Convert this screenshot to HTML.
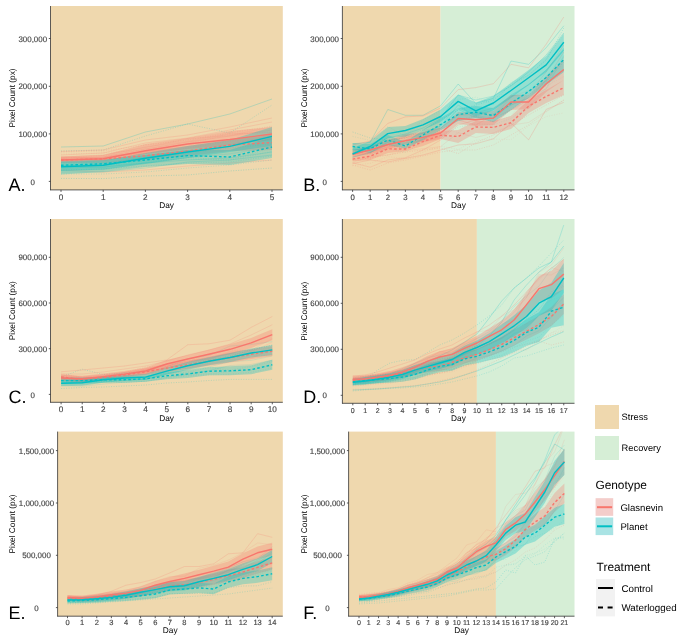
<!DOCTYPE html>
<html><head><meta charset="utf-8"><title>Pixel Count</title><style>
html,body{margin:0;padding:0;background:#fff;}
svg{display:block;will-change:transform;}
text{font-family:"Liberation Sans", sans-serif;text-rendering:geometricPrecision;}
.tk{font-size:7.95px;fill:#454545;stroke:#454545;stroke-width:0.15px;}
.ti{font-size:8.3px;fill:#000;}
.pl{font-size:18px;fill:#000;}
.lg{font-size:9.6px;fill:#000;}
.lt{font-size:11.9px;fill:#000;}
</style></head><body>
<svg width="685" height="641" viewBox="0 0 685 641">
<defs>
<clipPath id="cA"><rect x="50.5" y="6" width="232.3" height="183.9"/></clipPath>
<clipPath id="cB"><rect x="342.4" y="6" width="232.1" height="183.9"/></clipPath>
<clipPath id="cC"><rect x="50.5" y="219" width="232.3" height="183.3"/></clipPath>
<clipPath id="cD"><rect x="342.4" y="219" width="232.1" height="184.3"/></clipPath>
<clipPath id="cE"><rect x="57.6" y="431.6" width="225.2" height="184.6"/></clipPath>
<clipPath id="cF"><rect x="348.6" y="431.6" width="225.9" height="184.6"/></clipPath>
</defs>
<rect width="685" height="641" fill="#fff"/>
<rect x="50.5" y="6" width="232.3" height="183.9" fill="#EFD8AE"/>
<g clip-path="url(#cA)">
<polyline points="61,147 103.2,146 145.4,132 187.6,124 229.8,114 272,99" fill="none" stroke="#00BFC4" stroke-width="0.6" stroke-opacity="0.4"/>
<polyline points="61,151 103.2,150 145.4,136 187.6,124 229.8,133 272,105" fill="none" stroke="#00BFC4" stroke-width="0.6" stroke-opacity="0.4" stroke-dasharray="1,1.5"/>
<polyline points="61,151.4 103.2,150 145.4,140 187.6,135 229.8,127 272,118" fill="none" stroke="#F8766D" stroke-width="0.6" stroke-opacity="0.35"/>
<polyline points="61,155 103.2,153 145.4,143 187.6,138 229.8,130 272,122" fill="none" stroke="#F8766D" stroke-width="0.6" stroke-opacity="0.35"/>
<polyline points="61,152 103.2,151 145.4,145 187.6,140 229.8,133 272,126" fill="none" stroke="#F8766D" stroke-width="0.6" stroke-opacity="0.35" stroke-dasharray="1,1.5"/>
<polyline points="61,178.4 103.2,178.6 145.4,176 187.6,175 229.8,171 272,168" fill="none" stroke="#00BFC4" stroke-width="0.6" stroke-opacity="0.45" stroke-dasharray="1,1.5"/>
<polyline points="61,174 103.2,174 145.4,172 187.6,168 229.8,165 272,160" fill="none" stroke="#00BFC4" stroke-width="0.6" stroke-opacity="0.35" stroke-dasharray="1,1.5"/>
<polyline points="61,170 103.2,172 145.4,170 187.6,166 229.8,163 272,160" fill="none" stroke="#F8766D" stroke-width="0.6" stroke-opacity="0.3"/>
<polyline points="61,172 103.2,172 145.4,168 187.6,162 229.8,160 272,155" fill="none" stroke="#00BFC4" stroke-width="0.6" stroke-opacity="0.3"/>
<polyline points="61,158 103.2,157 145.4,149 187.6,142 229.8,136 272,130" fill="none" stroke="#F8766D" stroke-width="0.6" stroke-opacity="0.3"/>
<polyline points="61,163 103.2,163 145.4,158 187.6,153 229.8,148 272,144" fill="none" stroke="#F8766D" stroke-width="0.6" stroke-opacity="0.3" stroke-dasharray="1,1.5"/>
<polyline points="61,168 103.2,167 145.4,163 187.6,160 229.8,158 272,152" fill="none" stroke="#00BFC4" stroke-width="0.6" stroke-opacity="0.3"/>
<polyline points="61,170 103.2,169 145.4,166 187.6,163 229.8,162 272,156" fill="none" stroke="#00BFC4" stroke-width="0.6" stroke-opacity="0.3" stroke-dasharray="1,1.5"/>
<polyline points="61,157.1 103.2,155.66 145.4,146.94 187.6,141.28 229.8,133.9 272,132.43" fill="none" stroke="#F8766D" stroke-width="0.6" stroke-opacity="0.2"/>
<polyline points="61,156.87 103.2,154.88 145.4,147.65 187.6,138.71 229.8,135.63 272,126.59" fill="none" stroke="#F8766D" stroke-width="0.6" stroke-opacity="0.2"/>
<polyline points="61,154.15 103.2,152.9 145.4,149.87 187.6,143.65 229.8,134.38 272,131.88" fill="none" stroke="#F8766D" stroke-width="0.6" stroke-opacity="0.2" stroke-dasharray="1,1.5"/>
<polyline points="61,158.46 103.2,155.42 145.4,153.78 187.6,147.96 229.8,141.05 272,139.72" fill="none" stroke="#F8766D" stroke-width="0.6" stroke-opacity="0.2" stroke-dasharray="1,1.5"/>
<polyline points="61,165.91 103.2,163.79 145.4,157.41 187.6,150.83 229.8,144.69 272,136.17" fill="none" stroke="#00BFC4" stroke-width="0.6" stroke-opacity="0.2"/>
<polyline points="61,170.44 103.2,169.7 145.4,162.79 187.6,157.82 229.8,153.9 272,146.67" fill="none" stroke="#00BFC4" stroke-width="0.6" stroke-opacity="0.2"/>
<polyline points="61,166.05 103.2,165.18 145.4,163.01 187.6,157.45 229.8,160.18 272,151.49" fill="none" stroke="#00BFC4" stroke-width="0.6" stroke-opacity="0.2" stroke-dasharray="1,1.5"/>
<polyline points="61,166.82 103.2,164.17 145.4,160.75 187.6,159.32 229.8,159.86 272,147.93" fill="none" stroke="#00BFC4" stroke-width="0.6" stroke-opacity="0.2" stroke-dasharray="1,1.5"/>
<polygon points="61,157.5 103.2,157 145.4,151 187.6,146 229.8,140 272,135 272,150 229.8,151 187.6,156 145.4,160 103.2,163 61,163" fill="#F8766D" fill-opacity="0.3"/>
<polygon points="61,156.5 103.2,155 145.4,144 187.6,138 229.8,131 272,127 272,140 229.8,145 187.6,149 145.4,154 103.2,161 61,162" fill="#F8766D" fill-opacity="0.3"/>
<polygon points="61,161 103.2,159.5 145.4,155 187.6,150 229.8,150 272,137 272,158 229.8,165 187.6,164 145.4,167 103.2,172 61,174.5" fill="#00BFC4" fill-opacity="0.3"/>
<polygon points="61,162 103.2,160.5 145.4,153 187.6,146 229.8,140 272,127 272,146 229.8,152 187.6,158 145.4,164 103.2,169.6 61,171" fill="#00BFC4" fill-opacity="0.3"/>
<polyline points="61,160 103.2,158.9 145.4,155.8 187.6,151 229.8,145 272,142.6" fill="none" stroke="#F8766D" stroke-width="1.4" stroke-linejoin="round" stroke-dasharray="2.6,2.2"/>
<polyline points="61,165.3 103.2,163.8 145.4,160 187.6,155.6 229.8,157 272,147" fill="none" stroke="#00BFC4" stroke-width="1.4" stroke-linejoin="round" stroke-dasharray="2.6,2.2"/>
<polyline points="61,160 103.2,158.7 145.4,150.7 187.6,144 229.8,139.5 272,134" fill="none" stroke="#F8766D" stroke-width="1.4" stroke-linejoin="round"/>
<polyline points="61,166.7 103.2,165.3 145.4,158.2 187.6,152 229.8,146.4 272,136.4" fill="none" stroke="#00BFC4" stroke-width="1.4" stroke-linejoin="round"/>
</g>
<line x1="50.5" y1="6" x2="50.5" y2="190.2" stroke="#333" stroke-width="0.8"/>
<line x1="50.2" y1="189.9" x2="282.8" y2="189.9" stroke="#333" stroke-width="0.8"/>
<line x1="48.8" y1="181.4" x2="50.5" y2="181.4" stroke="#333" stroke-width="0.8"/>
<text x="32.76" y="184.5" text-anchor="middle" class="tk">0</text>
<line x1="48.8" y1="133.9" x2="50.5" y2="133.9" stroke="#333" stroke-width="0.8"/>
<text x="32.76" y="137" text-anchor="middle" class="tk">100,000</text>
<line x1="48.8" y1="86.3" x2="50.5" y2="86.3" stroke="#333" stroke-width="0.8"/>
<text x="32.76" y="89.4" text-anchor="middle" class="tk">200,000</text>
<line x1="48.8" y1="38.5" x2="50.5" y2="38.5" stroke="#333" stroke-width="0.8"/>
<text x="32.76" y="41.6" text-anchor="middle" class="tk">300,000</text>
<line x1="61" y1="189.9" x2="61" y2="191.9" stroke="#333" stroke-width="0.8"/>
<text x="61" y="200" text-anchor="middle" class="tk" style="font-size:8.2px">0</text>
<line x1="103.2" y1="189.9" x2="103.2" y2="191.9" stroke="#333" stroke-width="0.8"/>
<text x="103.2" y="200" text-anchor="middle" class="tk" style="font-size:8.2px">1</text>
<line x1="145.4" y1="189.9" x2="145.4" y2="191.9" stroke="#333" stroke-width="0.8"/>
<text x="145.4" y="200" text-anchor="middle" class="tk" style="font-size:8.2px">2</text>
<line x1="187.6" y1="189.9" x2="187.6" y2="191.9" stroke="#333" stroke-width="0.8"/>
<text x="187.6" y="200" text-anchor="middle" class="tk" style="font-size:8.2px">3</text>
<line x1="229.8" y1="189.9" x2="229.8" y2="191.9" stroke="#333" stroke-width="0.8"/>
<text x="229.8" y="200" text-anchor="middle" class="tk" style="font-size:8.2px">4</text>
<line x1="272" y1="189.9" x2="272" y2="191.9" stroke="#333" stroke-width="0.8"/>
<text x="272" y="200" text-anchor="middle" class="tk" style="font-size:8.2px">5</text>
<text x="166.65" y="207.9" text-anchor="middle" class="ti">Day</text>
<text transform="translate(15.2,97.95) rotate(-90)" text-anchor="middle" class="ti">Pixel Count (px)</text>
<text x="8.6" y="190.9" class="pl">A.</text>
<rect x="342.4" y="6" width="98.2" height="183.9" fill="#EFD8AE"/>
<rect x="440.6" y="6" width="133.9" height="183.9" fill="#D6EED6"/>
<g clip-path="url(#cB)">
<polyline points="352.6,143.8 370.2,142.3 387.8,109.5 405.4,115.3 423,115.3 440.6,105.8 458.2,84 475.8,103.4 493.4,98.4 511,61 528.6,64.3 546.2,47.7 563.8,25.8" fill="none" stroke="#00BFC4" stroke-width="0.6" stroke-opacity="0.4"/>
<polyline points="352.6,162.8 370.2,167.2 387.8,160 405.4,157.7 423,150 440.6,140 458.2,125 475.8,120 493.4,118 511,110 528.6,100 546.2,80 563.8,60" fill="none" stroke="#F8766D" stroke-width="0.6" stroke-opacity="0.35"/>
<polyline points="352.6,145 370.2,141 387.8,123.4 405.4,116.8 423,116 440.6,108 458.2,89.6 475.8,87.6 493.4,83.7 511,64.3 528.6,67.8 546.2,44.2 563.8,17" fill="none" stroke="#F8766D" stroke-width="0.6" stroke-opacity="0.4"/>
<polyline points="352.6,132 370.2,138 387.8,140 405.4,138 423,130 440.6,120 458.2,110 475.8,105 493.4,100 511,85 528.6,75 546.2,60 563.8,28" fill="none" stroke="#00BFC4" stroke-width="0.6" stroke-opacity="0.4" stroke-dasharray="1,1.5"/>
<polyline points="352.6,163.5 370.2,160 387.8,162 405.4,158.4 423,155 440.6,150 458.2,145 475.8,143.8 493.4,138.8 511,123 528.6,139.8 546.2,109.3 563.8,102.4" fill="none" stroke="#F8766D" stroke-width="0.6" stroke-opacity="0.4"/>
<polyline points="352.6,160 370.2,158 387.8,155 405.4,152 423,150 440.6,148 458.2,153.6 475.8,142.8 493.4,135 511,125 528.6,115 546.2,105 563.8,95" fill="none" stroke="#F8766D" stroke-width="0.6" stroke-opacity="0.4" stroke-dasharray="1,1.5"/>
<polyline points="352.6,150 370.2,148 387.8,138 405.4,134 423,128 440.6,118 458.2,95 475.8,100 493.4,96 511,86 528.6,72 546.2,55 563.8,33" fill="none" stroke="#00BFC4" stroke-width="0.6" stroke-opacity="0.35"/>
<polyline points="352.6,155 370.2,152 387.8,147 405.4,143 423,140 440.6,133 458.2,120 475.8,125 493.4,115 511,105 528.6,98 546.2,80 563.8,52" fill="none" stroke="#F8766D" stroke-width="0.6" stroke-opacity="0.35"/>
<polyline points="352.6,165 370.2,170 387.8,163 405.4,160 423,156 440.6,152 458.2,150 475.8,150 493.4,145 511,135 528.6,125 546.2,112 563.8,100" fill="none" stroke="#F8766D" stroke-width="0.6" stroke-opacity="0.35" stroke-dasharray="1,1.5"/>
<polyline points="352.6,152 370.2,150 387.8,145 405.4,149 423,140 440.6,130 458.2,120 475.8,116 493.4,122 511,110 528.6,95 546.2,82 563.8,62" fill="none" stroke="#00BFC4" stroke-width="0.6" stroke-opacity="0.35" stroke-dasharray="1,1.5"/>
<polyline points="352.6,157 370.2,153 387.8,142 405.4,140 423,133 440.6,126 458.2,105 475.8,117 493.4,110 511,95 528.6,85 546.2,70 563.8,50" fill="none" stroke="#00BFC4" stroke-width="0.6" stroke-opacity="0.3"/>
<polyline points="352.6,150 370.2,148 387.8,140 405.4,138 423,133 440.6,128 458.2,115 475.8,113 493.4,108 511,96 528.6,94 546.2,72 563.8,45" fill="none" stroke="#F8766D" stroke-width="0.6" stroke-opacity="0.3"/>
<polyline points="352.6,152.64 370.2,146.5 387.8,142 405.4,137.04 423,135.89 440.6,127.85 458.2,115.02 475.8,116.53 493.4,117.68 511,96.73 528.6,90.57 546.2,81.28 563.8,57.05" fill="none" stroke="#F8766D" stroke-width="0.6" stroke-opacity="0.2"/>
<polyline points="352.6,162.33 370.2,156.87 387.8,154.97 405.4,150.62 423,148.64 440.6,146.67 458.2,132.69 475.8,137.52 493.4,132.97 511,125.05 528.6,122.51 546.2,111.07 563.8,100.18" fill="none" stroke="#F8766D" stroke-width="0.6" stroke-opacity="0.2"/>
<polyline points="352.6,156.46 370.2,150.86 387.8,145.54 405.4,144.69 423,133.36 440.6,127.33 458.2,132.65 475.8,114.55 493.4,121.79 511,116.18 528.6,91.74 546.2,86.1 563.8,76.61" fill="none" stroke="#F8766D" stroke-width="0.6" stroke-opacity="0.2" stroke-dasharray="1,1.5"/>
<polyline points="352.6,165.67 370.2,163.27 387.8,156.56 405.4,158.75 423,152.1 440.6,146.23 458.2,149.48 475.8,140.1 493.4,139.02 511,139.62 528.6,125.97 546.2,116.59 563.8,112.91" fill="none" stroke="#F8766D" stroke-width="0.6" stroke-opacity="0.2" stroke-dasharray="1,1.5"/>
<polyline points="352.6,157.07 370.2,152.78 387.8,142.53 405.4,136.68 423,130.32 440.6,128.58 458.2,109.11 475.8,118.18 493.4,113.79 511,104.98 528.6,98.14 546.2,88.77 563.8,55.51" fill="none" stroke="#00BFC4" stroke-width="0.6" stroke-opacity="0.2"/>
<polyline points="352.6,157.33 370.2,152.19 387.8,141.22 405.4,135.68 423,133.35 440.6,126.08 458.2,109.31 475.8,117.38 493.4,118.25 511,104.36 528.6,91.36 546.2,80.77 563.8,70.21" fill="none" stroke="#00BFC4" stroke-width="0.6" stroke-opacity="0.2"/>
<polyline points="352.6,150 370.2,154.84 387.8,148.59 405.4,152.28 423,142.26 440.6,136.01 458.2,127.11 475.8,123.66 493.4,124.9 511,118.36 528.6,106.46 546.2,88.25 563.8,70.81" fill="none" stroke="#00BFC4" stroke-width="0.6" stroke-opacity="0.2" stroke-dasharray="1,1.5"/>
<polyline points="352.6,136.35 370.2,140.52 387.8,126.41 405.4,136.59 423,119.96 440.6,110.53 458.2,99.44 475.8,97.18 493.4,104.52 511,82.3 528.6,75.71 546.2,59.39 563.8,33.06" fill="none" stroke="#00BFC4" stroke-width="0.6" stroke-opacity="0.2" stroke-dasharray="1,1.5"/>
<polygon points="352.6,155.5 370.2,152 387.8,145 405.4,146 423,138 440.6,131 458.2,130 475.8,121 493.4,121 511,116 528.6,100 546.2,90 563.8,80 563.8,95 546.2,103 528.6,113 511,129 493.4,134 475.8,133 458.2,143 440.6,139 423,146 405.4,151 387.8,153 370.2,160 352.6,161.3" fill="#F8766D" fill-opacity="0.3"/>
<polygon points="352.6,150.4 370.2,146 387.8,140 405.4,134.3 423,132 440.6,128 458.2,112 475.8,113 493.4,111 511,95 528.6,95 546.2,76 563.8,60 563.8,80 546.2,92 528.6,109 511,110 493.4,125 475.8,126 458.2,124 440.6,139 423,142 405.4,144.5 387.8,149 370.2,154 352.6,156" fill="#F8766D" fill-opacity="0.3"/>
<polygon points="352.6,143 370.2,144 387.8,135 405.4,142 423,130 440.6,118 458.2,108 475.8,106 493.4,108 511,96 528.6,84 546.2,70 563.8,48 563.8,72 546.2,85 528.6,98 511,110 493.4,122 475.8,118 458.2,121 440.6,130 423,140 405.4,148.5 387.8,145 370.2,153 352.6,150" fill="#00BFC4" fill-opacity="0.3"/>
<polygon points="352.6,148 370.2,141 387.8,127 405.4,126 423,119 440.6,109.5 458.2,94.5 475.8,102.4 493.4,96 511,83 528.6,70 546.2,56 563.8,33.7 563.8,51 546.2,72 528.6,85 511,98 493.4,110 475.8,116.2 458.2,108.3 440.6,122 423,130 405.4,136.5 387.8,138 370.2,150 352.6,155" fill="#00BFC4" fill-opacity="0.3"/>
<polyline points="352.6,159.1 370.2,156.2 387.8,148.9 405.4,149 423,141.6 440.6,135.3 458.2,136.5 475.8,127 493.4,127.4 511,122.7 528.6,106.3 546.2,96.5 563.8,87.6" fill="none" stroke="#F8766D" stroke-width="1.4" stroke-linejoin="round" stroke-dasharray="2.6,2.2"/>
<polyline points="352.6,146.5 370.2,148.8 387.8,140 405.4,146 423,135 440.6,124.5 458.2,114.5 475.8,112.2 493.4,115.6 511,103.2 528.6,91.5 546.2,77.5 563.8,59.5" fill="none" stroke="#00BFC4" stroke-width="1.4" stroke-linejoin="round" stroke-dasharray="2.6,2.2"/>
<polyline points="352.6,154.3 370.2,150 387.8,144.5 405.4,140.7 423,137.4 440.6,133 458.2,118.5 475.8,119.7 493.4,118.1 511,102 528.6,102 546.2,83.7 563.8,69.5" fill="none" stroke="#F8766D" stroke-width="1.4" stroke-linejoin="round"/>
<polyline points="352.6,154 370.2,146.5 387.8,133.6 405.4,130.5 423,124.8 440.6,116.5 458.2,101.4 475.8,110.8 493.4,103 511,90.5 528.6,77.7 546.2,64.9 563.8,42.3" fill="none" stroke="#00BFC4" stroke-width="1.4" stroke-linejoin="round"/>
</g>
<line x1="342.4" y1="6" x2="342.4" y2="190.2" stroke="#333" stroke-width="0.8"/>
<line x1="342.1" y1="189.9" x2="574.5" y2="189.9" stroke="#333" stroke-width="0.8"/>
<line x1="340.7" y1="181.4" x2="342.4" y2="181.4" stroke="#333" stroke-width="0.8"/>
<text x="324.66" y="184.5" text-anchor="middle" class="tk">0</text>
<line x1="340.7" y1="133.9" x2="342.4" y2="133.9" stroke="#333" stroke-width="0.8"/>
<text x="324.66" y="137" text-anchor="middle" class="tk">100,000</text>
<line x1="340.7" y1="86.3" x2="342.4" y2="86.3" stroke="#333" stroke-width="0.8"/>
<text x="324.66" y="89.4" text-anchor="middle" class="tk">200,000</text>
<line x1="340.7" y1="38.5" x2="342.4" y2="38.5" stroke="#333" stroke-width="0.8"/>
<text x="324.66" y="41.6" text-anchor="middle" class="tk">300,000</text>
<line x1="352.6" y1="189.9" x2="352.6" y2="191.9" stroke="#333" stroke-width="0.8"/>
<text x="352.6" y="199.9" text-anchor="middle" class="tk" style="font-size:7.8px">0</text>
<line x1="370.2" y1="189.9" x2="370.2" y2="191.9" stroke="#333" stroke-width="0.8"/>
<text x="370.2" y="199.9" text-anchor="middle" class="tk" style="font-size:7.8px">1</text>
<line x1="387.8" y1="189.9" x2="387.8" y2="191.9" stroke="#333" stroke-width="0.8"/>
<text x="387.8" y="199.9" text-anchor="middle" class="tk" style="font-size:7.8px">2</text>
<line x1="405.4" y1="189.9" x2="405.4" y2="191.9" stroke="#333" stroke-width="0.8"/>
<text x="405.4" y="199.9" text-anchor="middle" class="tk" style="font-size:7.8px">3</text>
<line x1="423" y1="189.9" x2="423" y2="191.9" stroke="#333" stroke-width="0.8"/>
<text x="423" y="199.9" text-anchor="middle" class="tk" style="font-size:7.8px">4</text>
<line x1="440.6" y1="189.9" x2="440.6" y2="191.9" stroke="#333" stroke-width="0.8"/>
<text x="440.6" y="199.9" text-anchor="middle" class="tk" style="font-size:7.8px">5</text>
<line x1="458.2" y1="189.9" x2="458.2" y2="191.9" stroke="#333" stroke-width="0.8"/>
<text x="458.2" y="199.9" text-anchor="middle" class="tk" style="font-size:7.8px">6</text>
<line x1="475.8" y1="189.9" x2="475.8" y2="191.9" stroke="#333" stroke-width="0.8"/>
<text x="475.8" y="199.9" text-anchor="middle" class="tk" style="font-size:7.8px">7</text>
<line x1="493.4" y1="189.9" x2="493.4" y2="191.9" stroke="#333" stroke-width="0.8"/>
<text x="493.4" y="199.9" text-anchor="middle" class="tk" style="font-size:7.8px">8</text>
<line x1="511" y1="189.9" x2="511" y2="191.9" stroke="#333" stroke-width="0.8"/>
<text x="511" y="199.9" text-anchor="middle" class="tk" style="font-size:7.8px">9</text>
<line x1="528.6" y1="189.9" x2="528.6" y2="191.9" stroke="#333" stroke-width="0.8"/>
<text x="528.6" y="199.9" text-anchor="middle" class="tk" style="font-size:7.8px">10</text>
<line x1="546.2" y1="189.9" x2="546.2" y2="191.9" stroke="#333" stroke-width="0.8"/>
<text x="546.2" y="199.9" text-anchor="middle" class="tk" style="font-size:7.8px">11</text>
<line x1="563.8" y1="189.9" x2="563.8" y2="191.9" stroke="#333" stroke-width="0.8"/>
<text x="563.8" y="199.9" text-anchor="middle" class="tk" style="font-size:7.8px">12</text>
<text x="458.45" y="207.9" text-anchor="middle" class="ti">Day</text>
<text transform="translate(307.2,97.95) rotate(-90)" text-anchor="middle" class="ti">Pixel Count (px)</text>
<text x="303.2" y="191" class="pl">B.</text>
<rect x="50.5" y="219" width="232.3" height="183.3" fill="#EFD8AE"/>
<g clip-path="url(#cC)">
<polyline points="61.1,377 82.22,369.2 103.34,374.5 124.46,373 145.58,371 166.7,368 187.82,364 208.94,360 230.06,356 251.18,350 272.3,345" fill="none" stroke="#00BFC4" stroke-width="0.6" stroke-opacity="0.4" stroke-dasharray="1,1.5"/>
<polyline points="61.1,388.5 82.22,387.5 103.34,387 124.46,386 145.58,385 166.7,383 187.82,382 208.94,380.5 230.06,379.4 251.18,379.4 272.3,379.4" fill="none" stroke="#00BFC4" stroke-width="0.6" stroke-opacity="0.4" stroke-dasharray="1,1.5"/>
<polyline points="61.1,371.8 82.22,370 103.34,368 124.46,366 145.58,363 166.7,360 187.82,344.7 208.94,343.8 230.06,340.2 251.18,327.4 272.3,316.5" fill="none" stroke="#F8766D" stroke-width="0.6" stroke-opacity="0.35"/>
<polyline points="61.1,374 82.22,374 103.34,372 124.46,369 145.58,366 166.7,361 187.82,355 208.94,350 230.06,344 251.18,335 272.3,324.7" fill="none" stroke="#F8766D" stroke-width="0.6" stroke-opacity="0.3"/>
<polyline points="61.1,379.51 82.22,381.99 103.34,379.22 124.46,376.61 145.58,373.43 166.7,367.74 187.82,363.49 208.94,358.86 230.06,353.87 251.18,351.58 272.3,342.38" fill="none" stroke="#F8766D" stroke-width="0.6" stroke-opacity="0.2"/>
<polyline points="61.1,381.52 82.22,382.91 103.34,380.57 124.46,378.46 145.58,376.74 166.7,371.27 187.82,368.37 208.94,363.97 230.06,360.13 251.18,358.13 272.3,348.82" fill="none" stroke="#F8766D" stroke-width="0.6" stroke-opacity="0.2"/>
<polyline points="61.1,378.52 82.22,379.6 103.34,378.31 124.46,375.12 145.58,372.65 166.7,366.69 187.82,360.3 208.94,359.61 230.06,351.47 251.18,350.18 272.3,338.72" fill="none" stroke="#F8766D" stroke-width="0.6" stroke-opacity="0.2"/>
<polyline points="61.1,376.86 82.22,377.23 103.34,377.13 124.46,372.59 145.58,369.41 166.7,366.03 187.82,360.62 208.94,359.19 230.06,356.53 251.18,350.28 272.3,347.49" fill="none" stroke="#F8766D" stroke-width="0.6" stroke-opacity="0.2" stroke-dasharray="1,1.5"/>
<polyline points="61.1,378.05 82.22,380.83 103.34,378.01 124.46,377.02 145.58,373.14 166.7,371.26 187.82,367.46 208.94,362.56 230.06,358.49 251.18,355.46 272.3,355.24" fill="none" stroke="#F8766D" stroke-width="0.6" stroke-opacity="0.2" stroke-dasharray="1,1.5"/>
<polyline points="61.1,373.15 82.22,377.93 103.34,375.93 124.46,372.52 145.58,366.91 166.7,366.08 187.82,362.41 208.94,353.58 230.06,349.99 251.18,350.65 272.3,344.76" fill="none" stroke="#F8766D" stroke-width="0.6" stroke-opacity="0.2" stroke-dasharray="1,1.5"/>
<polyline points="61.1,384.47 82.22,384.67 103.34,381.91 124.46,380.16 145.58,379.29 166.7,373.77 187.82,369.62 208.94,366.94 230.06,361.62 251.18,360.36 272.3,356.05" fill="none" stroke="#00BFC4" stroke-width="0.6" stroke-opacity="0.2"/>
<polyline points="61.1,379.91 82.22,379.55 103.34,376.45 124.46,372.97 145.58,374.18 166.7,366.82 187.82,358.68 208.94,355.61 230.06,346.05 251.18,344.49 272.3,341.52" fill="none" stroke="#00BFC4" stroke-width="0.6" stroke-opacity="0.2"/>
<polyline points="61.1,385.49 82.22,386.18 103.34,384.07 124.46,382.11 145.58,381.24 166.7,377.4 187.82,374.24 208.94,370.64 230.06,365.54 251.18,364.49 272.3,360.09" fill="none" stroke="#00BFC4" stroke-width="0.6" stroke-opacity="0.2"/>
<polyline points="61.1,379.4 82.22,380.46 103.34,379.12 124.46,377.87 145.58,377.43 166.7,373.01 187.82,372.23 208.94,367.55 230.06,370.12 251.18,366.38 272.3,361.5" fill="none" stroke="#00BFC4" stroke-width="0.6" stroke-opacity="0.2" stroke-dasharray="1,1.5"/>
<polyline points="61.1,383.41 82.22,381.99 103.34,381.55 124.46,382.61 145.58,381.27 166.7,378.35 187.82,376.01 208.94,375.07 230.06,374.19 251.18,372.32 272.3,368.23" fill="none" stroke="#00BFC4" stroke-width="0.6" stroke-opacity="0.2" stroke-dasharray="1,1.5"/>
<polyline points="61.1,381.79 82.22,381.45 103.34,381.47 124.46,380.47 145.58,379.42 166.7,376.97 187.82,374.98 208.94,373.95 230.06,371.48 251.18,370.15 272.3,365.35" fill="none" stroke="#00BFC4" stroke-width="0.6" stroke-opacity="0.2" stroke-dasharray="1,1.5"/>
<polygon points="61.1,374 82.22,376.5 103.34,374.5 124.46,372 145.58,368.3 166.7,364.1 187.82,360.8 208.94,356.7 230.06,352.5 251.18,349.2 272.3,346.1 272.3,356.1 251.18,359.2 230.06,362.5 208.94,365.7 187.82,368.8 166.7,372.1 145.58,375.3 124.46,378 103.34,380.5 82.22,382.5 61.1,380" fill="#F8766D" fill-opacity="0.3"/>
<polygon points="61.1,375 82.22,375.8 103.34,373.6 124.46,371.1 145.58,367.5 166.7,360 187.82,355 208.94,349.7 230.06,344.3 251.18,337.9 272.3,329.2 272.3,340.2 251.18,347.9 230.06,354.3 208.94,358.7 187.82,363 166.7,368 145.58,374.5 124.46,377.1 103.34,379.6 82.22,381.8 61.1,381" fill="#F8766D" fill-opacity="0.3"/>
<polygon points="61.1,377.6 82.22,377.6 103.34,376.7 124.46,376.7 145.58,375.8 166.7,372.3 187.82,369.9 208.94,367.2 230.06,366.3 251.18,365.2 272.3,359.8 272.3,369.8 251.18,374.2 230.06,375.3 208.94,375.2 187.82,377.9 166.7,379.3 145.58,381.8 124.46,382.7 103.34,382.7 82.22,383.6 61.1,383.6" fill="#00BFC4" fill-opacity="0.3"/>
<polygon points="61.1,380.2 82.22,379.7 103.34,376.7 124.46,375 145.58,374.1 166.7,367.7 187.82,361.7 208.94,357.2 230.06,353 251.18,348.5 272.3,344.9 272.3,354.9 251.18,357.5 230.06,362 208.94,365.2 187.82,369.7 166.7,374.7 145.58,380.1 124.46,381 103.34,382.7 82.22,385.7 61.1,386.2" fill="#00BFC4" fill-opacity="0.3"/>
<polyline points="61.1,377 82.22,379.5 103.34,377.5 124.46,375 145.58,371.8 166.7,368.1 187.82,364.8 208.94,361.2 230.06,357.5 251.18,354.2 272.3,351.1" fill="none" stroke="#F8766D" stroke-width="1.4" stroke-linejoin="round" stroke-dasharray="2.6,2.2"/>
<polyline points="61.1,380.6 82.22,380.6 103.34,379.7 124.46,379.7 145.58,378.8 166.7,375.8 187.82,373.9 208.94,371.2 230.06,370.8 251.18,369.7 272.3,364.8" fill="none" stroke="#00BFC4" stroke-width="1.4" stroke-linejoin="round" stroke-dasharray="2.6,2.2"/>
<polyline points="61.1,378 82.22,378.8 103.34,376.6 124.46,374.1 145.58,371 166.7,364 187.82,359 208.94,354.2 230.06,349.3 251.18,342.9 272.3,334.7" fill="none" stroke="#F8766D" stroke-width="1.4" stroke-linejoin="round"/>
<polyline points="61.1,383.2 82.22,382.7 103.34,379.7 124.46,378 145.58,377.1 166.7,371.2 187.82,365.7 208.94,361.2 230.06,357.5 251.18,353 272.3,349.9" fill="none" stroke="#00BFC4" stroke-width="1.4" stroke-linejoin="round"/>
</g>
<line x1="50.5" y1="219" x2="50.5" y2="402.6" stroke="#333" stroke-width="0.8"/>
<line x1="50.2" y1="402.3" x2="282.8" y2="402.3" stroke="#333" stroke-width="0.8"/>
<line x1="48.8" y1="394.4" x2="50.5" y2="394.4" stroke="#333" stroke-width="0.8"/>
<text x="32.76" y="397.5" text-anchor="middle" class="tk">0</text>
<line x1="48.8" y1="348.7" x2="50.5" y2="348.7" stroke="#333" stroke-width="0.8"/>
<text x="32.76" y="351.8" text-anchor="middle" class="tk">300,000</text>
<line x1="48.8" y1="303" x2="50.5" y2="303" stroke="#333" stroke-width="0.8"/>
<text x="32.76" y="306.1" text-anchor="middle" class="tk">600,000</text>
<line x1="48.8" y1="257.3" x2="50.5" y2="257.3" stroke="#333" stroke-width="0.8"/>
<text x="32.76" y="260.4" text-anchor="middle" class="tk">900,000</text>
<line x1="61.1" y1="402.3" x2="61.1" y2="404.3" stroke="#333" stroke-width="0.8"/>
<text x="61.1" y="412" text-anchor="middle" class="tk" style="font-size:8.2px">0</text>
<line x1="82.22" y1="402.3" x2="82.22" y2="404.3" stroke="#333" stroke-width="0.8"/>
<text x="82.22" y="412" text-anchor="middle" class="tk" style="font-size:8.2px">1</text>
<line x1="103.34" y1="402.3" x2="103.34" y2="404.3" stroke="#333" stroke-width="0.8"/>
<text x="103.34" y="412" text-anchor="middle" class="tk" style="font-size:8.2px">2</text>
<line x1="124.46" y1="402.3" x2="124.46" y2="404.3" stroke="#333" stroke-width="0.8"/>
<text x="124.46" y="412" text-anchor="middle" class="tk" style="font-size:8.2px">3</text>
<line x1="145.58" y1="402.3" x2="145.58" y2="404.3" stroke="#333" stroke-width="0.8"/>
<text x="145.58" y="412" text-anchor="middle" class="tk" style="font-size:8.2px">4</text>
<line x1="166.7" y1="402.3" x2="166.7" y2="404.3" stroke="#333" stroke-width="0.8"/>
<text x="166.7" y="412" text-anchor="middle" class="tk" style="font-size:8.2px">5</text>
<line x1="187.82" y1="402.3" x2="187.82" y2="404.3" stroke="#333" stroke-width="0.8"/>
<text x="187.82" y="412" text-anchor="middle" class="tk" style="font-size:8.2px">6</text>
<line x1="208.94" y1="402.3" x2="208.94" y2="404.3" stroke="#333" stroke-width="0.8"/>
<text x="208.94" y="412" text-anchor="middle" class="tk" style="font-size:8.2px">7</text>
<line x1="230.06" y1="402.3" x2="230.06" y2="404.3" stroke="#333" stroke-width="0.8"/>
<text x="230.06" y="412" text-anchor="middle" class="tk" style="font-size:8.2px">8</text>
<line x1="251.18" y1="402.3" x2="251.18" y2="404.3" stroke="#333" stroke-width="0.8"/>
<text x="251.18" y="412" text-anchor="middle" class="tk" style="font-size:8.2px">9</text>
<line x1="272.3" y1="402.3" x2="272.3" y2="404.3" stroke="#333" stroke-width="0.8"/>
<text x="272.3" y="412" text-anchor="middle" class="tk" style="font-size:8.2px">10</text>
<text x="166.65" y="420.5" text-anchor="middle" class="ti">Day</text>
<text transform="translate(15.2,310.65) rotate(-90)" text-anchor="middle" class="ti">Pixel Count (px)</text>
<text x="8.6" y="402.6" class="pl">C.</text>
<rect x="342.4" y="219" width="134.5" height="184.3" fill="#EFD8AE"/>
<rect x="476.9" y="219" width="97.6" height="184.3" fill="#D6EED6"/>
<g clip-path="url(#cD)">
<polyline points="352.8,385 365.21,380 377.62,370 390.03,363 402.44,360.4 414.85,359.6 427.26,352.6 439.67,345 452.08,340 464.49,333 476.9,325 489.31,316 501.72,305 514.13,288 526.54,278 538.95,266 551.36,253 563.77,240" fill="none" stroke="#00BFC4" stroke-width="0.6" stroke-opacity="0.4" stroke-dasharray="1,1.5"/>
<polyline points="352.8,383 365.21,382 377.62,379 390.03,376 402.44,372 414.85,367 427.26,361 439.67,356 452.08,350 464.49,342 476.9,334 489.31,318 501.72,301 514.13,288 526.54,278 538.95,268 551.36,262 563.77,246" fill="none" stroke="#00BFC4" stroke-width="0.6" stroke-opacity="0.4"/>
<polyline points="352.8,384 365.21,383 377.62,381 390.03,379 402.44,376 414.85,372 427.26,368 439.67,364 452.08,360 464.49,354 476.9,346 489.31,336 501.72,322 514.13,300 526.54,285 538.95,272 551.36,262 563.77,225" fill="none" stroke="#00BFC4" stroke-width="0.6" stroke-opacity="0.35"/>
<polyline points="352.8,389.3 365.21,389 377.62,388.5 390.03,387.6 402.44,386.5 414.85,385.5 427.26,384 439.67,381 452.08,378 464.49,375 476.9,370 489.31,364 501.72,358 514.13,352 526.54,346 538.95,340 551.36,335 563.77,331" fill="none" stroke="#F8766D" stroke-width="0.6" stroke-opacity="0.4" stroke-dasharray="1,1.5"/>
<polyline points="352.8,390 365.21,389.5 377.62,389 390.03,388 402.44,387 414.85,386 427.26,384 439.67,382 452.08,379 464.49,375 476.9,371 489.31,366 501.72,361 514.13,355 526.54,349 538.95,343 551.36,337 563.77,331.7" fill="none" stroke="#00BFC4" stroke-width="0.6" stroke-opacity="0.4"/>
<polyline points="352.8,391 365.21,390 377.62,389 390.03,388.5 402.44,388 414.85,387 427.26,386 439.67,384 452.08,382 464.49,379 476.9,376 489.31,372 501.72,366 514.13,358 526.54,356 538.95,352 551.36,348 563.77,345" fill="none" stroke="#00BFC4" stroke-width="0.6" stroke-opacity="0.35" stroke-dasharray="1,1.5"/>
<polyline points="352.8,376 365.21,375 377.62,372 390.03,368 402.44,364 414.85,360 427.26,354 439.67,349 452.08,345 464.49,338 476.9,332 489.31,325 501.72,316 514.13,305 526.54,292 538.95,278 551.36,268 563.77,259.5" fill="none" stroke="#F8766D" stroke-width="0.6" stroke-opacity="0.35"/>
<polyline points="352.8,386 365.21,385 377.62,384 390.03,383 402.44,381 414.85,379 427.26,376 439.67,373 452.08,370 464.49,366 476.9,361 489.31,356 501.72,352 514.13,347 526.54,344 538.95,341 551.36,345 563.77,342" fill="none" stroke="#F8766D" stroke-width="0.6" stroke-opacity="0.35" stroke-dasharray="1,1.5"/>
<polyline points="352.8,375.69 365.21,375.31 377.62,375.13 390.03,371.71 402.44,370.15 414.85,363.28 427.26,358.78 439.67,352.3 452.08,348.86 464.49,343.02 476.9,331.75 489.31,330.3 501.72,316.22 514.13,309.65 526.54,297.83 538.95,272.23 551.36,264.9 563.77,247.93" fill="none" stroke="#F8766D" stroke-width="0.6" stroke-opacity="0.2"/>
<polyline points="352.8,378.78 365.21,377.49 377.62,375.1 390.03,372.75 402.44,369.31 414.85,363.38 427.26,358.67 439.67,351.42 452.08,353.7 464.49,346.54 476.9,338.66 489.31,333.59 501.72,322.36 514.13,312.46 526.54,297.08 538.95,274.71 551.36,274.9 563.77,267.89" fill="none" stroke="#F8766D" stroke-width="0.6" stroke-opacity="0.2"/>
<polyline points="352.8,376.89 365.21,376.64 377.62,375.4 390.03,374.32 402.44,371.21 414.85,365.03 427.26,359.77 439.67,354 452.08,351.72 464.49,347.29 476.9,342.73 489.31,332.82 501.72,324.23 514.13,319.17 526.54,291.71 538.95,279.51 551.36,267.76 563.77,271.35" fill="none" stroke="#F8766D" stroke-width="0.6" stroke-opacity="0.2"/>
<polyline points="352.8,383.53 365.21,383.78 377.62,382.11 390.03,380.99 402.44,377.86 414.85,375.08 427.26,374.89 439.67,373.26 452.08,371.81 464.49,367.13 476.9,363.14 489.31,359.06 501.72,357.1 514.13,353.04 526.54,349.06 538.95,341.18 551.36,332.56 563.77,330.2" fill="none" stroke="#F8766D" stroke-width="0.6" stroke-opacity="0.2" stroke-dasharray="1,1.5"/>
<polyline points="352.8,384.53 365.21,383.64 377.62,383.03 390.03,381.24 402.44,378.38 414.85,376.84 427.26,374.23 439.67,373.18 452.08,370.27 464.49,365.5 476.9,363.95 489.31,359.92 501.72,355.91 514.13,349.68 526.54,350.18 538.95,341.07 551.36,333.38 563.77,325.57" fill="none" stroke="#F8766D" stroke-width="0.6" stroke-opacity="0.2" stroke-dasharray="1,1.5"/>
<polyline points="352.8,378.72 365.21,376.55 377.62,375.12 390.03,373.34 402.44,369.24 414.85,365.85 427.26,361.74 439.67,362.93 452.08,356.42 464.49,350.18 476.9,345.74 489.31,344.28 501.72,338.35 514.13,325.27 526.54,324.45 538.95,308.34 551.36,299.89 563.77,295.74" fill="none" stroke="#F8766D" stroke-width="0.6" stroke-opacity="0.2" stroke-dasharray="1,1.5"/>
<polyline points="352.8,384.7 365.21,383.73 377.62,381.73 390.03,379.88 402.44,376.47 414.85,373.66 427.26,370.13 439.67,368.88 452.08,364.24 464.49,357.15 476.9,356.85 489.31,349.21 501.72,343.97 514.13,333.5 526.54,329.52 538.95,314.7 551.36,309.74 563.77,297.68" fill="none" stroke="#00BFC4" stroke-width="0.6" stroke-opacity="0.2"/>
<polyline points="352.8,378.48 365.21,376.85 377.62,375.37 390.03,374.17 402.44,368.52 414.85,363.46 427.26,357.58 439.67,355.18 452.08,352.61 464.49,344.56 476.9,338.41 489.31,331.62 501.72,320.89 514.13,306.49 526.54,295.86 538.95,286.18 551.36,268.97 563.77,257.45" fill="none" stroke="#00BFC4" stroke-width="0.6" stroke-opacity="0.2"/>
<polyline points="352.8,385.63 365.21,384.47 377.62,383.05 390.03,381.63 402.44,379.34 414.85,377.51 427.26,373.03 439.67,369.78 452.08,369.48 464.49,363.11 476.9,358.11 489.31,355.48 501.72,350.97 514.13,345.45 526.54,335.95 538.95,330.73 551.36,317.07 563.77,303.48" fill="none" stroke="#00BFC4" stroke-width="0.6" stroke-opacity="0.2"/>
<polyline points="352.8,377.99 365.21,375.93 377.62,374.53 390.03,374.25 402.44,373.65 414.85,369.15 427.26,364.51 439.67,358.16 452.08,358.12 464.49,352.47 476.9,345.07 489.31,343.63 501.72,331.45 514.13,330.31 526.54,318.68 538.95,309.74 551.36,292.23 563.77,286.37" fill="none" stroke="#00BFC4" stroke-width="0.6" stroke-opacity="0.2" stroke-dasharray="1,1.5"/>
<polyline points="352.8,384.05 365.21,382.25 377.62,382.56 390.03,381.24 402.44,379.81 414.85,378.71 427.26,374.13 439.67,370.26 452.08,368.58 464.49,365.49 476.9,360.03 489.31,357.39 501.72,355.08 514.13,347.51 526.54,341.23 538.95,336.97 551.36,324.82 563.77,315.12" fill="none" stroke="#00BFC4" stroke-width="0.6" stroke-opacity="0.2" stroke-dasharray="1,1.5"/>
<polyline points="352.8,379.46 365.21,377.9 377.62,375.98 390.03,374.24 402.44,373.89 414.85,370.84 427.26,364.96 439.67,359.73 452.08,356.92 464.49,348.44 476.9,345.71 489.31,344.75 501.72,337.09 514.13,328.96 526.54,318.56 538.95,309.72 551.36,291.56 563.77,285.01" fill="none" stroke="#00BFC4" stroke-width="0.6" stroke-opacity="0.2" stroke-dasharray="1,1.5"/>
<polygon points="352.8,377.2 365.21,375.9 377.62,374.4 390.03,372.3 402.44,369.4 414.85,365.5 427.26,362.6 439.67,360.9 452.08,357.1 464.49,351.9 476.9,348.4 489.31,343.13 501.72,337.26 514.13,329.99 526.54,322.81 538.95,315.64 551.36,307.07 563.77,294 563.77,314 551.36,325.93 538.95,333.36 526.54,339.39 514.13,345.41 501.72,351.54 489.31,356.27 476.9,360.4 464.49,363.3 452.08,367.9 439.67,371.1 427.26,372.2 414.85,374.5 402.44,377.8 390.03,380.1 377.62,381.6 365.21,382.5 352.8,383.2" fill="#F8766D" fill-opacity="0.3"/>
<polygon points="352.8,376.2 365.21,375.4 377.62,373.3 390.03,371.1 402.44,367.2 414.85,362.4 427.26,355.9 439.67,351.2 452.08,348.2 464.49,341.7 476.9,336 489.31,328.26 501.72,320.51 514.13,309.57 526.54,293.03 538.95,275.99 551.36,270.84 563.77,259.1 563.77,289.1 551.36,298.56 538.95,301.41 526.54,316.17 514.13,330.43 501.72,339.09 489.31,344.54 476.9,350 464.49,354.9 452.08,360.6 439.67,362.8 427.26,366.7 414.85,372.4 402.44,376.4 390.03,379.5 377.62,380.9 365.21,382.2 352.8,382.2" fill="#F8766D" fill-opacity="0.3"/>
<polygon points="352.8,379 365.21,377.1 377.62,375.7 390.03,374.3 402.44,372.5 414.85,369.5 427.26,364.6 439.67,360.7 452.08,358.3 464.49,352.4 476.9,349.3 489.31,343.23 501.72,336.86 514.13,328.69 526.54,319.11 538.95,312.24 551.36,294.77 563.77,289.2 563.77,325.2 551.36,327.63 538.95,341.96 526.54,345.69 514.13,352.11 501.72,357.14 489.31,360.37 476.9,363.3 464.49,365.6 452.08,370.7 439.67,372.3 427.26,375.4 414.85,379.5 402.44,381.7 390.03,382.7 377.62,383.3 365.21,383.9 352.8,385" fill="#00BFC4" fill-opacity="0.3"/>
<polygon points="352.8,379.3 365.21,377.6 377.62,375.4 390.03,372.9 402.44,369.9 414.85,365.1 427.26,361.2 439.67,357.2 452.08,353.3 464.49,345.7 476.9,340.5 489.31,333.56 501.72,324.51 514.13,315.37 526.54,304.93 538.95,290.49 551.36,282.74 563.77,263 563.77,293 551.36,310.46 538.95,315.91 526.54,328.07 514.13,336.23 501.72,343.09 489.31,349.84 476.9,354.5 464.49,358.9 452.08,365.7 439.67,368.8 427.26,372 414.85,375.1 402.44,379.1 390.03,381.3 377.62,383 365.21,384.4 352.8,385.3" fill="#00BFC4" fill-opacity="0.3"/>
<polyline points="352.8,380.2 365.21,379.2 377.62,378 390.03,376.2 402.44,373.6 414.85,370 427.26,367.4 439.67,366 452.08,362.5 464.49,357.6 476.9,354.4 489.31,349.7 501.72,344.4 514.13,337.7 526.54,331.1 538.95,324.5 551.36,316.5 563.77,304" fill="none" stroke="#F8766D" stroke-width="1.4" stroke-linejoin="round" stroke-dasharray="2.6,2.2"/>
<polyline points="352.8,382 365.21,380.5 377.62,379.5 390.03,378.5 402.44,377.1 414.85,374.5 427.26,370 439.67,366.5 452.08,364.5 464.49,359 476.9,356.3 489.31,351.8 501.72,347 514.13,340.4 526.54,332.4 538.95,327.1 551.36,311.2 563.77,307.2" fill="none" stroke="#00BFC4" stroke-width="1.4" stroke-linejoin="round" stroke-dasharray="2.6,2.2"/>
<polyline points="352.8,379.2 365.21,378.8 377.62,377.1 390.03,375.3 402.44,371.8 414.85,367.4 427.26,361.3 439.67,357 452.08,354.4 464.49,348.3 476.9,343 489.31,336.4 501.72,329.8 514.13,320 526.54,304.6 538.95,288.7 551.36,284.7 563.77,274.1" fill="none" stroke="#F8766D" stroke-width="1.4" stroke-linejoin="round"/>
<polyline points="352.8,382.3 365.21,381 377.62,379.2 390.03,377.1 402.44,374.5 414.85,370.1 427.26,366.6 439.67,363 452.08,359.5 464.49,352.3 476.9,347.5 489.31,341.7 501.72,333.8 514.13,325.8 526.54,316.5 538.95,303.2 551.36,296.6 563.77,278" fill="none" stroke="#00BFC4" stroke-width="1.4" stroke-linejoin="round"/>
</g>
<line x1="342.4" y1="219" x2="342.4" y2="403.6" stroke="#333" stroke-width="0.8"/>
<line x1="342.1" y1="403.3" x2="574.5" y2="403.3" stroke="#333" stroke-width="0.8"/>
<line x1="340.7" y1="395.3" x2="342.4" y2="395.3" stroke="#333" stroke-width="0.8"/>
<text x="324.66" y="398.4" text-anchor="middle" class="tk">0</text>
<line x1="340.7" y1="349.3" x2="342.4" y2="349.3" stroke="#333" stroke-width="0.8"/>
<text x="324.66" y="352.4" text-anchor="middle" class="tk">300,000</text>
<line x1="340.7" y1="303.3" x2="342.4" y2="303.3" stroke="#333" stroke-width="0.8"/>
<text x="324.66" y="306.4" text-anchor="middle" class="tk">600,000</text>
<line x1="340.7" y1="257.3" x2="342.4" y2="257.3" stroke="#333" stroke-width="0.8"/>
<text x="324.66" y="260.4" text-anchor="middle" class="tk">900,000</text>
<line x1="352.8" y1="403.3" x2="352.8" y2="405.3" stroke="#333" stroke-width="0.8"/>
<text x="352.8" y="412.5" text-anchor="middle" class="tk" style="font-size:7.0px">0</text>
<line x1="365.21" y1="403.3" x2="365.21" y2="405.3" stroke="#333" stroke-width="0.8"/>
<text x="365.21" y="412.5" text-anchor="middle" class="tk" style="font-size:7.0px">1</text>
<line x1="377.62" y1="403.3" x2="377.62" y2="405.3" stroke="#333" stroke-width="0.8"/>
<text x="377.62" y="412.5" text-anchor="middle" class="tk" style="font-size:7.0px">2</text>
<line x1="390.03" y1="403.3" x2="390.03" y2="405.3" stroke="#333" stroke-width="0.8"/>
<text x="390.03" y="412.5" text-anchor="middle" class="tk" style="font-size:7.0px">3</text>
<line x1="402.44" y1="403.3" x2="402.44" y2="405.3" stroke="#333" stroke-width="0.8"/>
<text x="402.44" y="412.5" text-anchor="middle" class="tk" style="font-size:7.0px">4</text>
<line x1="414.85" y1="403.3" x2="414.85" y2="405.3" stroke="#333" stroke-width="0.8"/>
<text x="414.85" y="412.5" text-anchor="middle" class="tk" style="font-size:7.0px">5</text>
<line x1="427.26" y1="403.3" x2="427.26" y2="405.3" stroke="#333" stroke-width="0.8"/>
<text x="427.26" y="412.5" text-anchor="middle" class="tk" style="font-size:7.0px">6</text>
<line x1="439.67" y1="403.3" x2="439.67" y2="405.3" stroke="#333" stroke-width="0.8"/>
<text x="439.67" y="412.5" text-anchor="middle" class="tk" style="font-size:7.0px">7</text>
<line x1="452.08" y1="403.3" x2="452.08" y2="405.3" stroke="#333" stroke-width="0.8"/>
<text x="452.08" y="412.5" text-anchor="middle" class="tk" style="font-size:7.0px">8</text>
<line x1="464.49" y1="403.3" x2="464.49" y2="405.3" stroke="#333" stroke-width="0.8"/>
<text x="464.49" y="412.5" text-anchor="middle" class="tk" style="font-size:7.0px">9</text>
<line x1="476.9" y1="403.3" x2="476.9" y2="405.3" stroke="#333" stroke-width="0.8"/>
<text x="476.9" y="412.5" text-anchor="middle" class="tk" style="font-size:7.0px">10</text>
<line x1="489.31" y1="403.3" x2="489.31" y2="405.3" stroke="#333" stroke-width="0.8"/>
<text x="489.31" y="412.5" text-anchor="middle" class="tk" style="font-size:7.0px">11</text>
<line x1="501.72" y1="403.3" x2="501.72" y2="405.3" stroke="#333" stroke-width="0.8"/>
<text x="501.72" y="412.5" text-anchor="middle" class="tk" style="font-size:7.0px">12</text>
<line x1="514.13" y1="403.3" x2="514.13" y2="405.3" stroke="#333" stroke-width="0.8"/>
<text x="514.13" y="412.5" text-anchor="middle" class="tk" style="font-size:7.0px">13</text>
<line x1="526.54" y1="403.3" x2="526.54" y2="405.3" stroke="#333" stroke-width="0.8"/>
<text x="526.54" y="412.5" text-anchor="middle" class="tk" style="font-size:7.0px">14</text>
<line x1="538.95" y1="403.3" x2="538.95" y2="405.3" stroke="#333" stroke-width="0.8"/>
<text x="538.95" y="412.5" text-anchor="middle" class="tk" style="font-size:7.0px">15</text>
<line x1="551.36" y1="403.3" x2="551.36" y2="405.3" stroke="#333" stroke-width="0.8"/>
<text x="551.36" y="412.5" text-anchor="middle" class="tk" style="font-size:7.0px">16</text>
<line x1="563.77" y1="403.3" x2="563.77" y2="405.3" stroke="#333" stroke-width="0.8"/>
<text x="563.77" y="412.5" text-anchor="middle" class="tk" style="font-size:7.0px">17</text>
<text x="458.45" y="420.5" text-anchor="middle" class="ti">Day</text>
<text transform="translate(307.2,311.15) rotate(-90)" text-anchor="middle" class="ti">Pixel Count (px)</text>
<text x="303.2" y="403" class="pl">D.</text>
<rect x="57.6" y="431.6" width="225.2" height="184.6" fill="#EFD8AE"/>
<g clip-path="url(#cE)">
<polyline points="67.5,596 82.12,597 96.74,595 111.36,591.3 125.98,585.2 140.6,582.6 155.22,579 169.84,572.9 184.46,566.5 199.08,566.5 213.7,563.8 228.32,553.8 242.94,552.8 257.56,533.7 272.18,537.3" fill="none" stroke="#F8766D" stroke-width="0.6" stroke-opacity="0.35"/>
<polyline points="67.5,604 82.12,604 96.74,603 111.36,602 125.98,601 140.6,600 155.22,599 169.84,598 184.46,597 199.08,596 213.7,595 228.32,594 242.94,592 257.56,590 272.18,588" fill="none" stroke="#00BFC4" stroke-width="0.6" stroke-opacity="0.35" stroke-dasharray="1,1.5"/>
<polyline points="67.5,599.8 82.12,600.32 96.74,600.05 111.36,597.87 125.98,596.33 140.6,595.52 155.22,589.79 169.84,588.96 184.46,585.79 199.08,584.07 213.7,580.24 228.32,576.75 242.94,573.54 257.56,563.94 272.18,564.29" fill="none" stroke="#F8766D" stroke-width="0.6" stroke-opacity="0.2"/>
<polyline points="67.5,596.04 82.12,597.19 96.74,595.24 111.36,592.91 125.98,591.46 140.6,586.63 155.22,581.25 169.84,576.54 184.46,576.24 199.08,568.32 213.7,565.12 228.32,560.16 242.94,552.65 257.56,542.95 272.18,544.64" fill="none" stroke="#F8766D" stroke-width="0.6" stroke-opacity="0.2"/>
<polyline points="67.5,597.89 82.12,599.58 96.74,597.08 111.36,595.09 125.98,595.06 140.6,590.88 155.22,587.2 169.84,583.66 184.46,578.96 199.08,578.42 213.7,573.91 228.32,568.06 242.94,561.68 257.56,557.41 272.18,550.27" fill="none" stroke="#F8766D" stroke-width="0.6" stroke-opacity="0.2"/>
<polyline points="67.5,599.58 82.12,600.68 96.74,599.3 111.36,598.22 125.98,597.33 140.6,595.57 155.22,591.73 169.84,590.21 184.46,588.38 199.08,585.68 213.7,583.69 228.32,581.39 242.94,576.99 257.56,573.81 272.18,568.13" fill="none" stroke="#F8766D" stroke-width="0.6" stroke-opacity="0.2" stroke-dasharray="1,1.5"/>
<polyline points="67.5,596.43 82.12,598.21 96.74,596.88 111.36,595.5 125.98,593.15 140.6,590.23 155.22,586.78 169.84,582.73 184.46,580.11 199.08,579.53 213.7,574.55 228.32,569.76 242.94,565.52 257.56,563.38 272.18,557.79" fill="none" stroke="#F8766D" stroke-width="0.6" stroke-opacity="0.2" stroke-dasharray="1,1.5"/>
<polyline points="67.5,600.04 82.12,600.55 96.74,598.89 111.36,597.62 125.98,596.32 140.6,595.59 155.22,592.76 169.84,589.83 184.46,588.42 199.08,585.81 213.7,584.88 228.32,580.33 242.94,579.15 257.56,575.41 272.18,568.67" fill="none" stroke="#F8766D" stroke-width="0.6" stroke-opacity="0.2" stroke-dasharray="1,1.5"/>
<polyline points="67.5,599.18 82.12,597.9 96.74,597.39 111.36,596.11 125.98,593.66 140.6,589.9 155.22,587.96 169.84,582.44 184.46,581.35 199.08,578.03 213.7,572.51 228.32,567.97 242.94,561.9 257.56,558.65 272.18,546.8" fill="none" stroke="#00BFC4" stroke-width="0.6" stroke-opacity="0.2"/>
<polyline points="67.5,599.04 82.12,599.22 96.74,597.78 111.36,595.83 125.98,594.54 140.6,590.85 155.22,587.49 169.84,583.81 184.46,584.19 199.08,580.14 213.7,577.84 228.32,570.2 242.94,568.68 257.56,563.97 272.18,551.92" fill="none" stroke="#00BFC4" stroke-width="0.6" stroke-opacity="0.2"/>
<polyline points="67.5,599.03 82.12,599.11 96.74,597.55 111.36,597.34 125.98,594.56 140.6,590.01 155.22,587.88 169.84,584.52 184.46,583.97 199.08,578.59 213.7,576.82 228.32,570.17 242.94,567.86 257.56,560.25 272.18,553.75" fill="none" stroke="#00BFC4" stroke-width="0.6" stroke-opacity="0.2"/>
<polyline points="67.5,602.77 82.12,602.32 96.74,601.6 111.36,600.39 125.98,599.75 140.6,598.95 155.22,597.36 169.84,593.49 184.46,593.73 199.08,593.4 213.7,592.74 228.32,587.78 242.94,585.65 257.56,585.7 272.18,581.08" fill="none" stroke="#00BFC4" stroke-width="0.6" stroke-opacity="0.2" stroke-dasharray="1,1.5"/>
<polyline points="67.5,602.74 82.12,602.35 96.74,601.77 111.36,601.07 125.98,599.88 140.6,598.3 155.22,597.34 169.84,593.78 184.46,593.53 199.08,593.49 213.7,593.14 228.32,587.38 242.94,586.37 257.56,585.91 272.18,582.19" fill="none" stroke="#00BFC4" stroke-width="0.6" stroke-opacity="0.2" stroke-dasharray="1,1.5"/>
<polyline points="67.5,600.37 82.12,599.67 96.74,599.12 111.36,596.63 125.98,596 140.6,593.76 155.22,592.39 169.84,587.23 184.46,586.71 199.08,585.66 213.7,587.39 228.32,578.93 242.94,576.25 257.56,571.18 272.18,570.92" fill="none" stroke="#00BFC4" stroke-width="0.6" stroke-opacity="0.2" stroke-dasharray="1,1.5"/>
<polygon points="67.5,595.8 82.12,596.21 96.74,594.93 111.36,593.14 125.98,591.36 140.6,588.57 155.22,584.79 169.84,581.5 184.46,580.01 199.08,577.33 213.7,573.94 228.32,570.06 242.94,566.07 257.56,561.19 272.18,556.4 272.18,569.4 257.56,573.61 242.94,577.93 228.32,581.34 213.7,584.66 199.08,587.47 184.46,589.59 169.84,590.5 155.22,593.21 140.6,596.43 125.98,598.64 111.36,599.86 96.74,601.07 82.12,601.79 67.5,600.8" fill="#F8766D" fill-opacity="0.3"/>
<polygon points="67.5,594.9 82.12,595.51 96.74,593.83 111.36,591.44 125.98,589.46 140.6,586.47 155.22,580.99 169.84,577 184.46,573.61 199.08,569.63 213.7,565.74 228.32,561.46 242.94,553.27 257.56,546.59 272.18,542.7 272.18,555.7 257.56,559.01 242.94,565.13 228.32,572.74 213.7,576.46 199.08,579.77 184.46,583.19 169.84,586 155.22,589.41 140.6,594.33 125.98,596.74 111.36,598.16 96.74,599.97 82.12,601.09 67.5,599.9" fill="#F8766D" fill-opacity="0.3"/>
<polygon points="67.5,598.5 82.12,597.71 96.74,596.63 111.36,595.14 125.98,593.76 140.6,591.77 155.22,589.79 169.84,585.5 184.46,584.21 199.08,582.83 213.7,583.64 228.32,576.36 242.94,572.47 257.56,570.39 272.18,567.3 272.18,580.3 257.56,582.81 242.94,584.33 228.32,587.64 213.7,594.36 199.08,592.97 184.46,593.79 169.84,594.5 155.22,598.21 140.6,599.63 125.98,601.04 111.36,601.86 96.74,602.77 82.12,603.29 67.5,603.5" fill="#00BFC4" fill-opacity="0.3"/>
<polygon points="67.5,597.5 82.12,596.91 96.74,595.63 111.36,594.04 125.98,591.56 140.6,588.27 155.22,585.39 169.84,582.3 184.46,580.91 199.08,576.63 213.7,573.04 228.32,569.06 242.94,563.37 257.56,558.49 272.18,550 272.18,563 257.56,570.91 242.94,575.23 228.32,580.34 213.7,583.76 199.08,586.77 184.46,590.49 169.84,591.3 155.22,593.81 140.6,596.13 125.98,598.84 111.36,600.76 96.74,601.77 82.12,602.49 67.5,602.5" fill="#00BFC4" fill-opacity="0.3"/>
<polyline points="67.5,598.3 82.12,599 96.74,598 111.36,596.5 125.98,595 140.6,592.5 155.22,589 169.84,586 184.46,584.8 199.08,582.4 213.7,579.3 228.32,575.7 242.94,572 257.56,567.4 272.18,562.9" fill="none" stroke="#F8766D" stroke-width="1.4" stroke-linejoin="round" stroke-dasharray="2.6,2.2"/>
<polyline points="67.5,601 82.12,600.5 96.74,599.7 111.36,598.5 125.98,597.4 140.6,595.7 155.22,594 169.84,590 184.46,589 199.08,587.9 213.7,589 228.32,582 242.94,578.4 257.56,576.6 272.18,573.8" fill="none" stroke="#00BFC4" stroke-width="1.4" stroke-linejoin="round" stroke-dasharray="2.6,2.2"/>
<polyline points="67.5,597.4 82.12,598.3 96.74,596.9 111.36,594.8 125.98,593.1 140.6,590.4 155.22,585.2 169.84,581.5 184.46,578.4 199.08,574.7 213.7,571.1 228.32,567.1 242.94,559.2 257.56,552.8 272.18,549.2" fill="none" stroke="#F8766D" stroke-width="1.4" stroke-linejoin="round"/>
<polyline points="67.5,600 82.12,599.7 96.74,598.7 111.36,597.4 125.98,595.2 140.6,592.2 155.22,589.6 169.84,586.8 184.46,585.7 199.08,581.7 213.7,578.4 228.32,574.7 242.94,569.3 257.56,564.7 272.18,556.5" fill="none" stroke="#00BFC4" stroke-width="1.4" stroke-linejoin="round"/>
</g>
<line x1="57.6" y1="431.6" x2="57.6" y2="616.5" stroke="#333" stroke-width="0.8"/>
<line x1="57.3" y1="616.2" x2="282.8" y2="616.2" stroke="#333" stroke-width="0.8"/>
<line x1="55.9" y1="607.6" x2="57.6" y2="607.6" stroke="#333" stroke-width="0.8"/>
<text x="36.49" y="610.7" text-anchor="middle" class="tk">0</text>
<line x1="55.9" y1="555.3" x2="57.6" y2="555.3" stroke="#333" stroke-width="0.8"/>
<text x="36.49" y="558.4" text-anchor="middle" class="tk">500,000</text>
<line x1="55.9" y1="503" x2="57.6" y2="503" stroke="#333" stroke-width="0.8"/>
<text x="36.49" y="506.1" text-anchor="middle" class="tk">1,000,000</text>
<line x1="55.9" y1="450.6" x2="57.6" y2="450.6" stroke="#333" stroke-width="0.8"/>
<text x="36.49" y="453.7" text-anchor="middle" class="tk">1,500,000</text>
<line x1="67.5" y1="616.2" x2="67.5" y2="618.2" stroke="#333" stroke-width="0.8"/>
<text x="67.5" y="625.3" text-anchor="middle" class="tk" style="font-size:7.5px">0</text>
<line x1="82.12" y1="616.2" x2="82.12" y2="618.2" stroke="#333" stroke-width="0.8"/>
<text x="82.12" y="625.3" text-anchor="middle" class="tk" style="font-size:7.5px">1</text>
<line x1="96.74" y1="616.2" x2="96.74" y2="618.2" stroke="#333" stroke-width="0.8"/>
<text x="96.74" y="625.3" text-anchor="middle" class="tk" style="font-size:7.5px">2</text>
<line x1="111.36" y1="616.2" x2="111.36" y2="618.2" stroke="#333" stroke-width="0.8"/>
<text x="111.36" y="625.3" text-anchor="middle" class="tk" style="font-size:7.5px">3</text>
<line x1="125.98" y1="616.2" x2="125.98" y2="618.2" stroke="#333" stroke-width="0.8"/>
<text x="125.98" y="625.3" text-anchor="middle" class="tk" style="font-size:7.5px">4</text>
<line x1="140.6" y1="616.2" x2="140.6" y2="618.2" stroke="#333" stroke-width="0.8"/>
<text x="140.6" y="625.3" text-anchor="middle" class="tk" style="font-size:7.5px">5</text>
<line x1="155.22" y1="616.2" x2="155.22" y2="618.2" stroke="#333" stroke-width="0.8"/>
<text x="155.22" y="625.3" text-anchor="middle" class="tk" style="font-size:7.5px">6</text>
<line x1="169.84" y1="616.2" x2="169.84" y2="618.2" stroke="#333" stroke-width="0.8"/>
<text x="169.84" y="625.3" text-anchor="middle" class="tk" style="font-size:7.5px">7</text>
<line x1="184.46" y1="616.2" x2="184.46" y2="618.2" stroke="#333" stroke-width="0.8"/>
<text x="184.46" y="625.3" text-anchor="middle" class="tk" style="font-size:7.5px">8</text>
<line x1="199.08" y1="616.2" x2="199.08" y2="618.2" stroke="#333" stroke-width="0.8"/>
<text x="199.08" y="625.3" text-anchor="middle" class="tk" style="font-size:7.5px">9</text>
<line x1="213.7" y1="616.2" x2="213.7" y2="618.2" stroke="#333" stroke-width="0.8"/>
<text x="213.7" y="625.3" text-anchor="middle" class="tk" style="font-size:7.5px">10</text>
<line x1="228.32" y1="616.2" x2="228.32" y2="618.2" stroke="#333" stroke-width="0.8"/>
<text x="228.32" y="625.3" text-anchor="middle" class="tk" style="font-size:7.5px">11</text>
<line x1="242.94" y1="616.2" x2="242.94" y2="618.2" stroke="#333" stroke-width="0.8"/>
<text x="242.94" y="625.3" text-anchor="middle" class="tk" style="font-size:7.5px">12</text>
<line x1="257.56" y1="616.2" x2="257.56" y2="618.2" stroke="#333" stroke-width="0.8"/>
<text x="257.56" y="625.3" text-anchor="middle" class="tk" style="font-size:7.5px">13</text>
<line x1="272.18" y1="616.2" x2="272.18" y2="618.2" stroke="#333" stroke-width="0.8"/>
<text x="272.18" y="625.3" text-anchor="middle" class="tk" style="font-size:7.5px">14</text>
<text x="170.2" y="633" text-anchor="middle" class="ti">Day</text>
<text transform="translate(15.2,523.9) rotate(-90)" text-anchor="middle" class="ti">Pixel Count (px)</text>
<text x="8.6" y="619" class="pl">E.</text>
<rect x="348.6" y="431.6" width="147.32" height="184.6" fill="#EFD8AE"/>
<rect x="495.92" y="431.6" width="78.58" height="184.6" fill="#D6EED6"/>
<g clip-path="url(#cF)">
<polyline points="359,603 368.78,602 378.56,601 388.34,600 398.12,599 407.9,598 417.68,597 427.46,596 437.24,595 447.02,594 456.8,593 466.58,591 476.36,589 486.14,588 495.92,582 505.7,570 515.48,573 525.26,555.7 535.04,565 544.82,562 554.6,538.4 564.38,537" fill="none" stroke="#00BFC4" stroke-width="0.6" stroke-opacity="0.4" stroke-dasharray="1,1.5"/>
<polyline points="359,604 368.78,603.5 378.56,603 388.34,602 398.12,601 407.9,600 417.68,599 427.46,598 437.24,597 447.02,596 456.8,594 466.58,592 476.36,590 486.14,590 495.92,589 505.7,578 515.48,567.6 525.26,559.7 535.04,556 544.82,551.7 554.6,541 564.38,533" fill="none" stroke="#00BFC4" stroke-width="0.6" stroke-opacity="0.35" stroke-dasharray="1,1.5"/>
<polyline points="359,596 368.78,595 378.56,594 388.34,592 398.12,589 407.9,585 417.68,582 427.46,578 437.24,574 447.02,568 456.8,562 466.58,553 476.36,545 486.14,540 495.92,528 505.7,515 515.48,502 525.26,487 535.04,471.3 544.82,467.8 554.6,445 564.38,425" fill="none" stroke="#F8766D" stroke-width="0.6" stroke-opacity="0.35"/>
<polyline points="359,598 368.78,597 378.56,596 388.34,594 398.12,591 407.9,588 417.68,585 427.46,581 437.24,577 447.02,571 456.8,566 466.58,558 476.36,550 486.14,544 495.92,535 505.7,520 515.48,505 525.26,490 535.04,478 544.82,462 554.6,444 564.38,450" fill="none" stroke="#00BFC4" stroke-width="0.6" stroke-opacity="0.4"/>
<polyline points="359,599 368.78,598 378.56,597 388.34,595 398.12,592 407.9,589 417.68,586 427.46,582 437.24,578 447.02,573 456.8,568 466.58,561 476.36,553 486.14,547 495.92,538 505.7,520 515.48,508 525.26,495 535.04,480 544.82,460 554.6,435 564.38,425" fill="none" stroke="#00BFC4" stroke-width="0.6" stroke-opacity="0.35"/>
<polyline points="359,600 368.78,599 378.56,598 388.34,597 398.12,596 407.9,594 417.68,592 427.46,590 437.24,588 447.02,585 456.8,582 466.58,580 476.36,578 486.14,575 495.92,572 505.7,565 515.48,560 525.26,552 535.04,548 544.82,540 554.6,530 564.38,525" fill="none" stroke="#F8766D" stroke-width="0.6" stroke-opacity="0.3" stroke-dasharray="1,1.5"/>
<polyline points="359,594.99 368.78,593.83 378.56,592.75 388.34,589.63 398.12,587.69 407.9,582.99 417.68,580.19 427.46,574.48 437.24,572.69 447.02,565.36 456.8,558.18 466.58,544.91 476.36,541.91 486.14,529.83 495.92,531.75 505.7,506.46 515.48,494.53 525.26,493.07 535.04,484.77 544.82,462.5 554.6,451.97 564.38,425.88" fill="none" stroke="#F8766D" stroke-width="0.6" stroke-opacity="0.2"/>
<polyline points="359,595.64 368.78,595.25 378.56,593.51 388.34,591.3 398.12,589.06 407.9,585.08 417.68,583.12 427.46,577.4 437.24,572.45 447.02,567.37 456.8,564.18 466.58,554.57 476.36,543.99 486.14,539.27 495.92,528.18 505.7,523.33 515.48,512.81 525.26,505.76 535.04,483.64 544.82,466.54 554.6,462.5 564.38,449.88" fill="none" stroke="#F8766D" stroke-width="0.6" stroke-opacity="0.2"/>
<polyline points="359,597.33 368.78,596.07 378.56,594.21 388.34,593.3 398.12,590.74 407.9,586.64 417.68,583.11 427.46,579.78 437.24,576.83 447.02,569.11 456.8,565.18 466.58,552.78 476.36,548.05 486.14,537.7 495.92,533.33 505.7,521.76 515.48,510.46 525.26,505.8 535.04,487.91 544.82,480.32 554.6,466.88 564.38,439.75" fill="none" stroke="#F8766D" stroke-width="0.6" stroke-opacity="0.2"/>
<polyline points="359,594.14 368.78,592.84 378.56,592.51 388.34,591.86 398.12,589.91 407.9,584.22 417.68,581.41 427.46,579.8 437.24,575.48 447.02,568.01 456.8,564.5 466.58,552.7 476.36,548.07 486.14,546.67 495.92,545.54 505.7,534.26 515.48,524.99 525.26,505.92 535.04,497.4 544.82,491.4 554.6,482.53 564.38,471.71" fill="none" stroke="#F8766D" stroke-width="0.6" stroke-opacity="0.2" stroke-dasharray="1,1.5"/>
<polyline points="359,598.25 368.78,596.8 378.56,595.98 388.34,596.17 398.12,593.24 407.9,591.14 417.68,589.07 427.46,588.11 437.24,583.81 447.02,579.84 456.8,576.2 466.58,567.58 476.36,566.83 486.14,563.47 495.92,559.58 505.7,552.54 515.48,545.44 525.26,531.83 535.04,526.71 544.82,528.25 554.6,507.54 564.38,501.9" fill="none" stroke="#F8766D" stroke-width="0.6" stroke-opacity="0.2" stroke-dasharray="1,1.5"/>
<polyline points="359,595.63 368.78,594.32 378.56,593.85 388.34,591.66 398.12,591.23 407.9,586.44 417.68,585.43 427.46,581.45 437.24,578.05 447.02,573 456.8,564.76 466.58,561.58 476.36,555.43 486.14,552.86 495.92,547.97 505.7,540.18 515.48,527.87 525.26,519.55 535.04,506.58 544.82,508.07 554.6,488.52 564.38,476.97" fill="none" stroke="#F8766D" stroke-width="0.6" stroke-opacity="0.2" stroke-dasharray="1,1.5"/>
<polyline points="359,601.16 368.78,600.89 378.56,599.2 388.34,597.49 398.12,596.47 407.9,593.98 417.68,592.17 427.46,591.32 437.24,586.12 447.02,582.12 456.8,580.92 466.58,575.13 476.36,573.68 486.14,569.35 495.92,560.39 505.7,553.3 515.48,547.21 525.26,544.37 535.04,530.39 544.82,523.86 554.6,510.68 564.38,494.86" fill="none" stroke="#00BFC4" stroke-width="0.6" stroke-opacity="0.2"/>
<polyline points="359,600.08 368.78,599.05 378.56,597.16 388.34,595.31 398.12,593.54 407.9,591.31 417.68,589.62 427.46,585.8 437.24,584.22 447.02,577.06 456.8,575 466.58,570.09 476.36,567.51 486.14,560.1 495.92,548.36 505.7,542.89 515.48,536.76 525.26,523.47 535.04,515.91 544.82,497.21 554.6,486.24 564.38,467.59" fill="none" stroke="#00BFC4" stroke-width="0.6" stroke-opacity="0.2"/>
<polyline points="359,598.43 368.78,597.02 378.56,595.14 388.34,592.13 398.12,589.93 407.9,585.68 417.68,583.38 427.46,579.95 437.24,576.29 447.02,571.07 456.8,563.21 466.58,560.36 476.36,550.37 486.14,547.67 495.92,538.02 505.7,525.66 515.48,515.4 525.26,509.97 535.04,490.98 544.82,480.15 554.6,456.1 564.38,445" fill="none" stroke="#00BFC4" stroke-width="0.6" stroke-opacity="0.2"/>
<polyline points="359,601.05 368.78,601.1 378.56,599.35 388.34,598.01 398.12,596.95 407.9,595.41 417.68,593.65 427.46,592.92 437.24,588.98 447.02,584.05 456.8,583.1 466.58,579.71 476.36,576.19 486.14,577 495.92,567.29 505.7,564.93 515.48,563.64 525.26,557.81 535.04,553.72 544.82,545.14 554.6,537.93 564.38,539.08" fill="none" stroke="#00BFC4" stroke-width="0.6" stroke-opacity="0.2" stroke-dasharray="1,1.5"/>
<polyline points="359,599.95 368.78,598.78 378.56,597.91 388.34,596.11 398.12,595.1 407.9,592.18 417.68,590.38 427.46,589.81 437.24,584.14 447.02,581.81 456.8,576.58 466.58,572.54 476.36,571.65 486.14,570.35 495.92,558.22 505.7,559.74 515.48,549.84 525.26,543.98 535.04,536.58 544.82,533.24 554.6,528.32 564.38,520.31" fill="none" stroke="#00BFC4" stroke-width="0.6" stroke-opacity="0.2" stroke-dasharray="1,1.5"/>
<polyline points="359,601.19 368.78,600.87 378.56,599.34 388.34,597.98 398.12,596.29 407.9,595.78 417.68,593.15 427.46,591.4 437.24,588.5 447.02,585.19 456.8,582.67 466.58,579.53 476.36,579.03 486.14,576.04 495.92,572.13 505.7,565.51 515.48,564.15 525.26,555.42 535.04,553.01 544.82,548.99 554.6,542.23 564.38,533.16" fill="none" stroke="#00BFC4" stroke-width="0.6" stroke-opacity="0.2" stroke-dasharray="1,1.5"/>
<polygon points="359,594.9 368.78,594.35 378.56,593.2 388.34,592.05 398.12,589.9 407.9,587.25 417.68,584.6 427.46,581.95 437.24,578.8 447.02,572.33 456.8,567.87 466.58,561.9 476.36,555.93 486.14,551.47 495.92,548.3 505.7,542.13 515.48,533.16 525.26,521.79 535.04,513.71 544.82,507.14 554.6,493.07 564.38,483.4 564.38,503.4 554.6,511.93 544.82,524.86 535.04,530.29 525.26,537.21 515.48,547.44 505.7,555.27 495.92,560.3 486.14,562.53 476.36,566.07 466.58,571.1 456.8,576.13 447.02,579.67 437.24,585.2 427.46,588.05 417.68,590.4 407.9,592.75 398.12,595.1 388.34,596.95 378.56,597.8 368.78,598.65 359,598.9" fill="#F8766D" fill-opacity="0.3"/>
<polygon points="359,595.4 368.78,594.75 378.56,593.4 388.34,591.55 398.12,588.7 407.9,585.05 417.68,582.3 427.46,579.15 437.24,575.8 447.02,568.33 456.8,563.87 466.58,554.9 476.36,546.63 486.14,540.87 495.92,536.8 505.7,522.5 515.48,514.9 525.26,505 535.04,492 544.82,478.5 554.6,463.5 564.38,448.5 564.38,474.5 554.6,487.5 544.82,500.5 535.04,512 525.26,523 515.48,530.9 505.7,536.5 495.92,548.8 486.14,551.93 476.36,556.77 466.58,564.1 456.8,572.13 447.02,575.67 437.24,582.2 427.46,585.25 417.68,588.1 407.9,590.55 398.12,593.9 388.34,596.45 378.56,598 368.78,599.05 359,599.4" fill="#F8766D" fill-opacity="0.3"/>
<polygon points="359,597 368.78,596.35 378.56,594.7 388.34,593.05 398.12,590.9 407.9,588.25 417.68,586.1 427.46,583.95 437.24,580.3 447.02,574.53 456.8,570.87 466.58,566.9 476.36,562.53 486.14,559.47 495.92,551 505.7,545.13 515.48,539.26 525.26,529.39 535.04,524.81 544.82,516.34 554.6,507.77 564.38,504 564.38,524 554.6,526.63 544.82,534.06 535.04,541.39 525.26,544.81 515.48,553.54 505.7,558.27 495.92,563 486.14,570.53 476.36,572.67 466.58,576.1 456.8,579.13 447.02,581.87 437.24,586.7 427.46,590.05 417.68,591.9 407.9,593.75 398.12,596.1 388.34,597.95 378.56,599.3 368.78,600.65 359,601" fill="#00BFC4" fill-opacity="0.3"/>
<polygon points="359,597.2 368.78,595.85 378.56,593.9 388.34,592.05 398.12,589.6 407.9,586.85 417.68,584 427.46,581.25 437.24,577.6 447.02,571.33 456.8,566.37 466.58,560.4 476.36,555.93 486.14,550.17 495.92,539 505.7,526.1 515.48,517.2 525.26,513 535.04,497 544.82,481 554.6,460.7 564.38,449 564.38,475 554.6,484.7 544.82,503 535.04,517 525.26,531 515.48,533.2 505.7,540.1 495.92,551 486.14,561.23 476.36,566.07 466.58,569.6 456.8,574.63 447.02,578.67 437.24,584 427.46,587.35 417.68,589.8 407.9,592.35 398.12,594.8 388.34,596.95 378.56,598.5 368.78,600.15 359,601.2" fill="#00BFC4" fill-opacity="0.3"/>
<polyline points="359,596.9 368.78,596.5 378.56,595.5 388.34,594.5 398.12,592.5 407.9,590 417.68,587.5 427.46,585 437.24,582 447.02,576 456.8,572 466.58,566.5 476.36,561 486.14,557 495.92,554.3 505.7,548.7 515.48,540.3 525.26,529.5 535.04,522 544.82,516 554.6,502.5 564.38,493.4" fill="none" stroke="#F8766D" stroke-width="1.4" stroke-linejoin="round" stroke-dasharray="2.6,2.2"/>
<polyline points="359,599 368.78,598.5 378.56,597 388.34,595.5 398.12,593.5 407.9,591 417.68,589 427.46,587 437.24,583.5 447.02,578.2 456.8,575 466.58,571.5 476.36,567.6 486.14,565 495.92,557 505.7,551.7 515.48,546.4 525.26,537.1 535.04,533.1 544.82,525.2 554.6,517.2 564.38,514" fill="none" stroke="#00BFC4" stroke-width="1.4" stroke-linejoin="round" stroke-dasharray="2.6,2.2"/>
<polyline points="359,597.4 368.78,596.9 378.56,595.7 388.34,594 398.12,591.3 407.9,587.8 417.68,585.2 427.46,582.2 437.24,579 447.02,572 456.8,568 466.58,559.5 476.36,551.7 486.14,546.4 495.92,542.8 505.7,529.5 515.48,522.9 525.26,514 535.04,502 544.82,489.5 554.6,475.5 564.38,461.5" fill="none" stroke="#F8766D" stroke-width="1.4" stroke-linejoin="round"/>
<polyline points="359,599.2 368.78,598 378.56,596.2 388.34,594.5 398.12,592.2 407.9,589.6 417.68,586.9 427.46,584.3 437.24,580.8 447.02,575 456.8,570.5 466.58,565 476.36,561 486.14,555.7 495.92,545 505.7,533.1 515.48,525.2 525.26,522 535.04,507 544.82,492 554.6,472.7 564.38,462" fill="none" stroke="#00BFC4" stroke-width="1.4" stroke-linejoin="round"/>
</g>
<line x1="348.6" y1="431.6" x2="348.6" y2="616.5" stroke="#333" stroke-width="0.8"/>
<line x1="348.3" y1="616.2" x2="574.5" y2="616.2" stroke="#333" stroke-width="0.8"/>
<line x1="346.9" y1="607.6" x2="348.6" y2="607.6" stroke="#333" stroke-width="0.8"/>
<text x="327.49" y="610.7" text-anchor="middle" class="tk">0</text>
<line x1="346.9" y1="555.3" x2="348.6" y2="555.3" stroke="#333" stroke-width="0.8"/>
<text x="327.49" y="558.4" text-anchor="middle" class="tk">500,000</text>
<line x1="346.9" y1="503" x2="348.6" y2="503" stroke="#333" stroke-width="0.8"/>
<text x="327.49" y="506.1" text-anchor="middle" class="tk">1,000,000</text>
<line x1="346.9" y1="450.6" x2="348.6" y2="450.6" stroke="#333" stroke-width="0.8"/>
<text x="327.49" y="453.7" text-anchor="middle" class="tk">1,500,000</text>
<line x1="359" y1="616.2" x2="359" y2="618.2" stroke="#333" stroke-width="0.8"/>
<text x="359" y="625.3" text-anchor="middle" class="tk" style="font-size:7.1px">0</text>
<line x1="368.78" y1="616.2" x2="368.78" y2="618.2" stroke="#333" stroke-width="0.8"/>
<text x="368.78" y="625.3" text-anchor="middle" class="tk" style="font-size:7.1px">1</text>
<line x1="378.56" y1="616.2" x2="378.56" y2="618.2" stroke="#333" stroke-width="0.8"/>
<text x="378.56" y="625.3" text-anchor="middle" class="tk" style="font-size:7.1px">2</text>
<line x1="388.34" y1="616.2" x2="388.34" y2="618.2" stroke="#333" stroke-width="0.8"/>
<text x="388.34" y="625.3" text-anchor="middle" class="tk" style="font-size:7.1px">3</text>
<line x1="398.12" y1="616.2" x2="398.12" y2="618.2" stroke="#333" stroke-width="0.8"/>
<text x="398.12" y="625.3" text-anchor="middle" class="tk" style="font-size:7.1px">4</text>
<line x1="407.9" y1="616.2" x2="407.9" y2="618.2" stroke="#333" stroke-width="0.8"/>
<text x="407.9" y="625.3" text-anchor="middle" class="tk" style="font-size:7.1px">5</text>
<line x1="417.68" y1="616.2" x2="417.68" y2="618.2" stroke="#333" stroke-width="0.8"/>
<text x="417.68" y="625.3" text-anchor="middle" class="tk" style="font-size:7.1px">6</text>
<line x1="427.46" y1="616.2" x2="427.46" y2="618.2" stroke="#333" stroke-width="0.8"/>
<text x="427.46" y="625.3" text-anchor="middle" class="tk" style="font-size:7.1px">7</text>
<line x1="437.24" y1="616.2" x2="437.24" y2="618.2" stroke="#333" stroke-width="0.8"/>
<text x="437.24" y="625.3" text-anchor="middle" class="tk" style="font-size:7.1px">8</text>
<line x1="447.02" y1="616.2" x2="447.02" y2="618.2" stroke="#333" stroke-width="0.8"/>
<text x="447.02" y="625.3" text-anchor="middle" class="tk" style="font-size:7.1px">9</text>
<line x1="456.8" y1="616.2" x2="456.8" y2="618.2" stroke="#333" stroke-width="0.8"/>
<text x="456.8" y="625.3" text-anchor="middle" class="tk" style="font-size:7.1px">10</text>
<line x1="466.58" y1="616.2" x2="466.58" y2="618.2" stroke="#333" stroke-width="0.8"/>
<text x="466.58" y="625.3" text-anchor="middle" class="tk" style="font-size:7.1px">11</text>
<line x1="476.36" y1="616.2" x2="476.36" y2="618.2" stroke="#333" stroke-width="0.8"/>
<text x="476.36" y="625.3" text-anchor="middle" class="tk" style="font-size:7.1px">12</text>
<line x1="486.14" y1="616.2" x2="486.14" y2="618.2" stroke="#333" stroke-width="0.8"/>
<text x="486.14" y="625.3" text-anchor="middle" class="tk" style="font-size:7.1px">13</text>
<line x1="495.92" y1="616.2" x2="495.92" y2="618.2" stroke="#333" stroke-width="0.8"/>
<text x="495.92" y="625.3" text-anchor="middle" class="tk" style="font-size:7.1px">14</text>
<line x1="505.7" y1="616.2" x2="505.7" y2="618.2" stroke="#333" stroke-width="0.8"/>
<text x="505.7" y="625.3" text-anchor="middle" class="tk" style="font-size:7.1px">15</text>
<line x1="515.48" y1="616.2" x2="515.48" y2="618.2" stroke="#333" stroke-width="0.8"/>
<text x="515.48" y="625.3" text-anchor="middle" class="tk" style="font-size:7.1px">16</text>
<line x1="525.26" y1="616.2" x2="525.26" y2="618.2" stroke="#333" stroke-width="0.8"/>
<text x="525.26" y="625.3" text-anchor="middle" class="tk" style="font-size:7.1px">17</text>
<line x1="535.04" y1="616.2" x2="535.04" y2="618.2" stroke="#333" stroke-width="0.8"/>
<text x="535.04" y="625.3" text-anchor="middle" class="tk" style="font-size:7.1px">18</text>
<line x1="544.82" y1="616.2" x2="544.82" y2="618.2" stroke="#333" stroke-width="0.8"/>
<text x="544.82" y="625.3" text-anchor="middle" class="tk" style="font-size:7.1px">19</text>
<line x1="554.6" y1="616.2" x2="554.6" y2="618.2" stroke="#333" stroke-width="0.8"/>
<text x="554.6" y="625.3" text-anchor="middle" class="tk" style="font-size:7.1px">20</text>
<line x1="564.38" y1="616.2" x2="564.38" y2="618.2" stroke="#333" stroke-width="0.8"/>
<text x="564.38" y="625.3" text-anchor="middle" class="tk" style="font-size:7.1px">21</text>
<text x="461.55" y="633" text-anchor="middle" class="ti">Day</text>
<text transform="translate(307.2,523.9) rotate(-90)" text-anchor="middle" class="ti">Pixel Count (px)</text>
<text x="303.2" y="619" class="pl">F.</text>
<rect x="595" y="405" width="24" height="24" fill="#EFD8AE"/>
<text x="621.6" y="419.7" class="lg" style="font-size:9.3px">Stress</text>
<rect x="595" y="436" width="24" height="24" fill="#D6EED6"/>
<text x="621.6" y="450.7" class="lg" style="font-size:9.3px">Recovery</text>
<text x="595.4" y="489.4" class="lt">Genotype</text>
<rect x="595.6" y="498.2" width="17.6" height="17.6" fill="#F2F2F2"/>
<rect x="595.6" y="498.2" width="17.6" height="17.6" fill="#F8766D" fill-opacity="0.3"/>
<line x1="597" y1="507.2" x2="612.1" y2="507.2" stroke="#F8766D" stroke-width="2"/>
<text x="620.4" y="510.8" class="lg">Glasnevin</text>
<rect x="595.6" y="517.5" width="17.6" height="17.6" fill="#F2F2F2"/>
<rect x="595.6" y="517.5" width="17.6" height="17.6" fill="#00BFC4" fill-opacity="0.3"/>
<line x1="597" y1="526.3" x2="612.1" y2="526.3" stroke="#00BFC4" stroke-width="2"/>
<text x="620.4" y="529.9" class="lg">Planet</text>
<text x="596.6" y="571.4" class="lt">Treatment</text>
<rect x="596" y="579" width="19" height="37.4" fill="#F2F2F2"/>
<line x1="598" y1="588" x2="613" y2="588" stroke="#000" stroke-width="2"/>
<line x1="598" y1="607.4" x2="613" y2="607.4" stroke="#000" stroke-width="2" stroke-dasharray="5,4.6"/>
<text x="621.4" y="592" class="lg" style="font-size:9.8px">Control</text>
<text x="621.4" y="611" class="lg" style="font-size:9.8px">Waterlogged</text>
</svg>
</body></html>
